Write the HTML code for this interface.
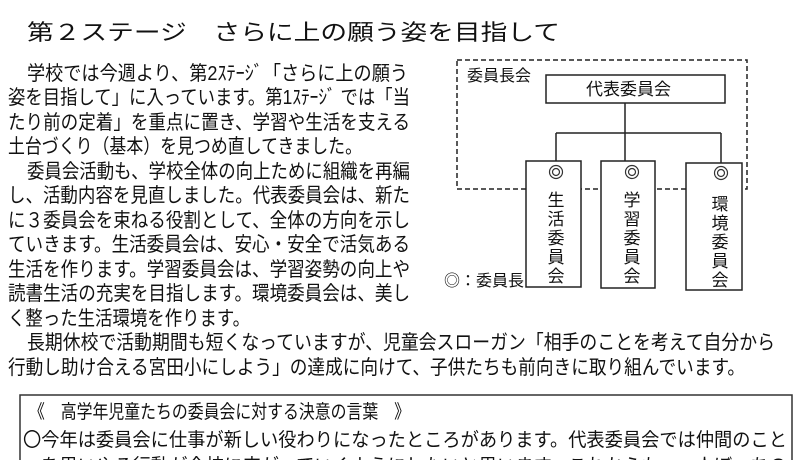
<!DOCTYPE html>
<html><head><meta charset="utf-8"><style>
html,body{margin:0;padding:0;background:#fff;width:800px;height:460px;overflow:hidden}
svg text{font-family:"Liberation Sans","Noto Sans CJK JP",sans-serif;fill:#111}
</style></head><body>
<svg width="800" height="460" style="position:absolute;left:0;top:0">
<text x="27" y="40" font-size="22" textLength="533" lengthAdjust="spacingAndGlyphs">第２ステージ　さらに上の願う姿を目指して</text>
<g font-size="20">
<text x="27" y="80" textLength="381" lengthAdjust="spacingAndGlyphs">学校では今週より、第2ｽﾃｰｼﾞ「さらに上の願う</text>
<text x="8" y="104" textLength="402" lengthAdjust="spacingAndGlyphs">姿を目指して」に入っています。第1ｽﾃｰｼﾞ では「当</text>
<text x="8" y="129" textLength="402" lengthAdjust="spacingAndGlyphs">たり前の定着」を重点に置き、学習や生活を支える</text>
<text x="8" y="153" textLength="354" lengthAdjust="spacingAndGlyphs">土台づくり（基本）を見つめ直してきました。</text>
<text x="27" y="178" textLength="383" lengthAdjust="spacingAndGlyphs">委員会活動も、学校全体の向上ために組織を再編</text>
<text x="8" y="202" textLength="402" lengthAdjust="spacingAndGlyphs">し、活動内容を見直しました。代表委員会は、新た</text>
<text x="8" y="227" textLength="402" lengthAdjust="spacingAndGlyphs">に３委員会を束ねる役割として、全体の方向を示し</text>
<text x="8" y="251" textLength="402" lengthAdjust="spacingAndGlyphs">ていきます。生活委員会は、安心・安全で活気ある</text>
<text x="8" y="276" textLength="402" lengthAdjust="spacingAndGlyphs">生活を作ります。学習委員会は、学習姿勢の向上や</text>
<text x="8" y="300" textLength="402" lengthAdjust="spacingAndGlyphs">読書生活の充実を目指します。環境委員会は、美し</text>
<text x="8" y="325" textLength="242" lengthAdjust="spacingAndGlyphs">く整った生活環境を作ります。</text>
<text x="27" y="349" textLength="748" lengthAdjust="spacingAndGlyphs">長期休校で活動期間も短くなっていますが、児童会スローガン「相手のことを考えて自分から</text>
<text x="8" y="374" textLength="737" lengthAdjust="spacingAndGlyphs">行動し助け合える宮田小にしよう」の達成に向けて、子供たちも前向きに取り組んでいます。</text>
</g>

<rect x="457" y="60" width="290" height="129" fill="none" stroke="#222" stroke-width="1.5" stroke-dasharray="5,3"/>
<rect x="546" y="75" width="179" height="28" fill="#fff" stroke="#222" stroke-width="1.5"/>
<path d="M625 103V133M556 133H721M556 133V161M625 133V161M721 133V163" stroke="#222" stroke-width="1.5" fill="none"/>
<rect x="526" y="161" width="55" height="126" fill="#fff" stroke="#222" stroke-width="1.5"/>
<rect x="601" y="161" width="54" height="127" fill="#fff" stroke="#222" stroke-width="1.5"/>
<rect x="686" y="163" width="56" height="127" fill="#fff" stroke="#222" stroke-width="1.5"/>
<g fill="none" stroke="#333" stroke-width="1.2">
<circle cx="556" cy="172" r="6.5"/><circle cx="556" cy="172" r="3.5"/>
<circle cx="632" cy="172" r="6.5"/><circle cx="632" cy="172" r="3.5"/>
<circle cx="721" cy="173" r="6.5"/><circle cx="721" cy="173" r="3.5"/>
</g>
<text x="467" y="81" font-size="16">委員長会</text>
<text x="586" y="95" font-size="17">代表委員会</text>
<g font-size="17" text-anchor="middle">
<text x="556" y="206">生</text><text x="556" y="225">活</text><text x="556" y="244">委</text><text x="556" y="263">員</text><text x="556" y="282">会</text>
<text x="632" y="206">学</text><text x="632" y="225">習</text><text x="632" y="244">委</text><text x="632" y="263">員</text><text x="632" y="282">会</text>
<text x="720" y="210">環</text><text x="720" y="229">境</text><text x="720" y="248">委</text><text x="720" y="267">員</text><text x="720" y="286">会</text>
</g>
<text x="444" y="286" font-size="16">◎：委員長</text>

<rect x="20" y="395" width="772" height="80" fill="none" stroke="#333" stroke-width="1.5"/>
<g font-size="19">
<text x="29" y="418" textLength="381" lengthAdjust="spacingAndGlyphs">《　高学年児童たちの委員会に対する決意の言葉　》</text>
<text x="23" y="446" textLength="764" lengthAdjust="spacingAndGlyphs">〇今年は委員会に仕事が新しい役わりになったところがあります。代表委員会では仲間のこと</text>
<text x="23" y="472" textLength="764" lengthAdjust="spacingAndGlyphs">　を思いやる行動が全校に広がっていくようにしたいと思います。これからも、一人ぼっちの</text>
</g>
</svg>
</body></html>
